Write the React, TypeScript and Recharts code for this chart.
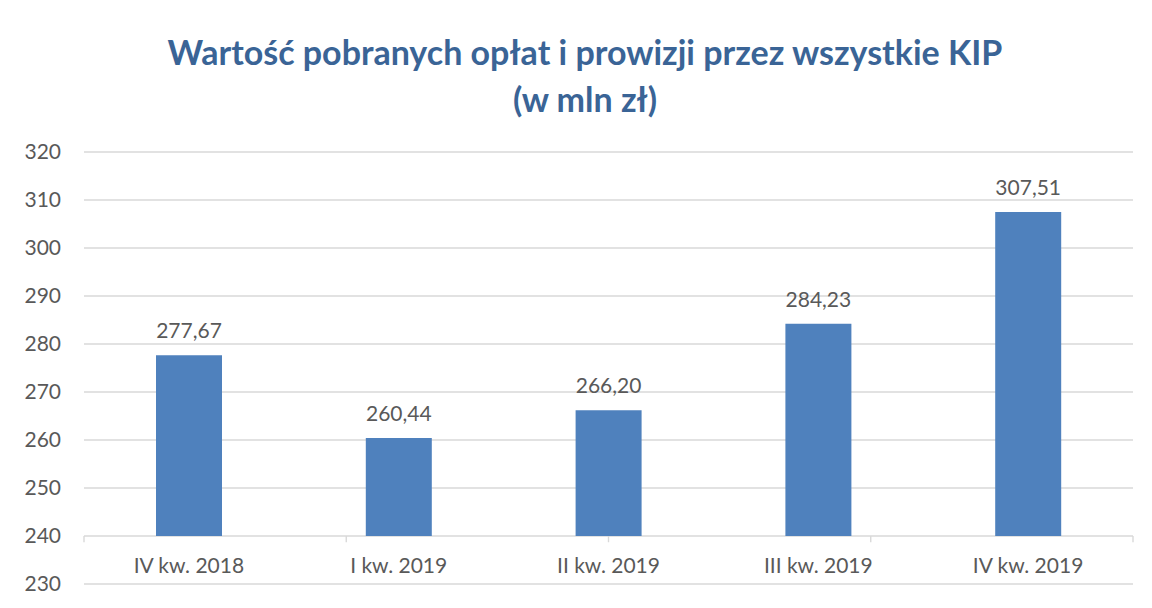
import { BarChart, Bar, XAxis, YAxis, CartesianGrid, LabelList, ReferenceLine } from "recharts";

const quarters = ["IV kw. 2018", "I kw. 2019", "II kw. 2019", "III kw. 2019", "IV kw. 2019"];
const fees = [277.67, 260.44, 266.2, 284.23, 307.51];
const yTicks = [230, 240, 250, 260, 270, 280, 290, 300, 310, 320];
const axisCross = 240;
const boundaries = [0, 1, 2, 3, 4, 5];

const TEXT = "#595959";
const GRID = "#d9d9d9";
const FONT = "Lato, 'Open Sans', sans-serif";

const data = quarters.map((q, i) => ({ quarter: q, range: [axisCross, fees[i]], value: fees[i] }));

const fmt = (v: number) => v.toFixed(2).replace(".", ",");

function CategoryTick(props: any) {
  const { x, y, payload } = props;
  return (
    <text x={x} y={y - 11} textAnchor="middle" fill={TEXT} fontSize={21} fontFamily={FONT}>
      {payload.value}
    </text>
  );
}

export default function App() {
  return (
    <div style={{ position: "relative", width: 1144, height: 600, borderLeft: `1px solid ${GRID}`, borderTop: `1px solid ${GRID}`, marginLeft: -1, marginTop: -1, background: "#fff" }}>
      <div
        style={{
          position: "absolute",
          left: 0,
          top: 20,
          width: 1154,
          textAlign: "center",
          color: "#3a6496",
          fontFamily: FONT,
          fontWeight: 700,
          fontSize: 34,
          lineHeight: "47px",
        }}
      >
        Wartość pobranych opłat i prowizji przez wszystkie KIP
        <br />
        (w mln zł)
      </div>
      <BarChart width={1144} height={600} data={data} margin={{ top: 144, right: 19, bottom: 0, left: 0 }}>
        <CartesianGrid horizontal vertical={false} stroke={GRID} strokeWidth={1.4} />
        <XAxis
          xAxisId="cat"
          dataKey="quarter"
          height={24}
          axisLine={false}
          tickLine={false}
          tickSize={0}
          tickMargin={0}
          interval={0}
          tick={<CategoryTick />}
        />
        <XAxis xAxisId="num" type="number" domain={[0, 5]} hide allowDataOverflow />
        <YAxis
          domain={[230, 320]}
          ticks={yTicks}
          width={76}
          axisLine={false}
          tickLine={false}
          tickSize={0}
          tickMargin={23}
          tick={{ fill: TEXT, fontSize: 21, fontFamily: FONT }}
          interval={0}
        />
        <Bar xAxisId="cat" dataKey="range" fill="#4f81bd" barSize={66} isAnimationActive={false}>
          <LabelList dataKey="value" position="top" offset={17} formatter={(v: any) => fmt(Number(v))} fill={TEXT} fontSize={21} fontFamily={FONT} />
        </Bar>
        {boundaries.map((b) => (
          <ReferenceLine
            key={b}
            xAxisId="num"
            segment={[
              { x: b, y: axisCross },
              { x: b, y: axisCross - 1.3 },
            ]}
            stroke={GRID}
            strokeWidth={1.4}
          />
        ))}
      </BarChart>
    </div>
  );
}
